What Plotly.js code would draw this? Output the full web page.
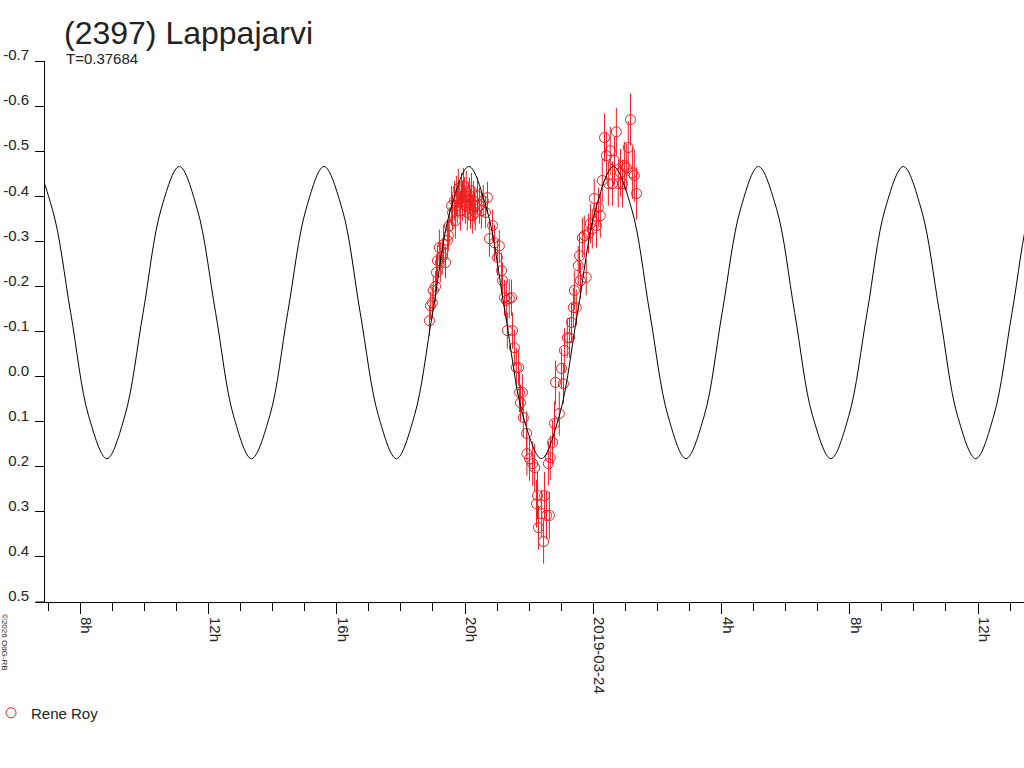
<!DOCTYPE html>
<html>
<head>
<meta charset="utf-8">
<script src="https://cdn.plot.ly/plotly-3.0.1.min.js"></script>
<style>html,body{margin:0;padding:0;background:#fff;}#chart{width:1024px;height:768px;}</style>
</head>
<body>
<div id="chart"></div>
<script>
// Observations: hours since 2019-03-23 00:00 UT, relative magnitude, error
var obsHours = [18.89,18.92,18.98,19.01,19.08,19.11,19.14,19.20,19.23,19.29,19.33,19.39,19.45,19.48,19.51,19.58,19.61,19.67,19.70,19.73,19.76,19.79,19.82,19.86,19.89,19.92,19.95,19.98,20.01,20.04,20.07,20.10,20.14,20.17,20.20,20.23,20.26,20.29,20.32,20.39,20.45,20.51,20.57,20.64,20.70,
 20.76,20.86,20.92,21.01,21.07,21.14,21.17,21.23,21.29,21.32,21.38,21.45,21.48,21.54,21.60,21.67,21.70,21.73,21.79,21.82,21.92,21.93,22.01,22.11,22.17,22.23,22.26,22.29,22.39,22.45,22.48,22.54,22.63,22.60,22.66,22.73,22.79,22.82,22.94,23.01,23.07,23.10,23.19,23.26,23.32,23.38,23.41,23.47,23.53,23.57,23.60,23.66,23.72,23.78,23.85,23.91,23.97,24.03,24.10,24.16,24.22,24.28,24.35,24.41,24.47,24.53,24.60,24.66,24.72,24.78,24.85,24.91,24.97,25.03,25.09,25.16,25.22,25.28,25.35];
var obsMags = [-0.124,-0.157,-0.164,-0.191,-0.200,-0.231,-0.257,-0.286,-0.253,-0.266,-0.293,-0.253,-0.302,-0.313,-0.335,-0.379,-0.364,-0.390,-0.346,-0.401,-0.379,-0.417,-0.395,-0.368,-0.412,-0.390,-0.423,-0.399,-0.379,-0.412,-0.364,-0.390,-0.401,-0.372,-0.412,-0.357,-0.390,-0.379,-0.364,-0.401,-0.379,-0.368,-0.390,-0.364,-0.397,
 -0.306,-0.335,-0.297,-0.264,-0.290,-0.235,-0.213,-0.175,-0.169,-0.102,-0.173,-0.175,-0.102,-0.064,-0.020,-0.020,0.035,0.058,0.035,0.091,0.126,0.171,0.182,0.193,0.202,0.282,0.264,0.335,0.304,0.366,0.264,0.308,0.308,0.193,0.180,0.146,0.104,0.013,0.082,-0.018,0.016,-0.058,-0.086,-0.086,-0.120,-0.153,-0.191,-0.153,-0.246,-0.268,-0.213,-0.308,-0.313,-0.220,-0.317,-0.339,-0.328,-0.395,-0.335,-0.375,-0.357,-0.435,-0.530,-0.490,-0.428,-0.501,-0.428,-0.479,-0.543,-0.428,-0.452,-0.428,-0.468,-0.463,-0.508,-0.570,-0.452,-0.446,-0.406];
var obsErrs = [0.033,0.031,0.035,0.033,0.035,0.040,0.035,0.040,0.044,0.040,0.044,0.035,0.040,0.035,0.040,0.044,0.040,0.044,0.040,0.044,0.040,0.044,0.040,0.044,0.040,0.044,0.040,0.044,0.040,0.044,0.040,0.044,0.040,0.044,0.040,0.040,0.044,0.040,0.040,0.040,0.040,0.040,0.035,0.035,0.035,
 0.040,0.035,0.040,0.040,0.035,0.040,0.040,0.040,0.044,0.040,0.044,0.040,0.040,0.040,0.044,0.040,0.044,0.040,0.040,0.044,0.049,0.049,0.049,0.049,0.053,0.053,0.053,0.049,0.053,0.049,0.053,0.053,0.053,0.049,0.049,0.049,0.049,0.049,0.049,0.044,0.044,0.049,0.044,0.044,0.044,0.044,0.044,0.040,0.044,0.040,0.040,0.044,0.044,0.040,0.044,0.044,0.044,0.044,0.049,0.044,0.049,0.049,0.053,0.053,0.049,0.053,0.049,0.053,0.053,0.053,0.053,0.053,0.053,0.053,0.058,0.058,0.058,0.058,0.058];

// Fitted curve (extremes and intermediate points)
var fitHours = [6.01,6.57,7.13,7.70,8.26,8.83,9.39,9.96,10.52,11.09,11.65,12.22,12.78,13.34,13.91,14.47,15.04,15.60,16.17,16.73,17.30,17.86,18.42,18.99,19.55,20.12,20.68,21.25,21.81,22.38,22.94,23.51,24.07,24.63,25.20,25.76,26.33,26.89,27.46,28.02,28.59,29.15,29.72,30.28,30.84,31.41,31.97,32.54,33.10,33.67,34.23,34.80,35.36,35.93,36.49,37.06,37.62,38.18];
var fitMags = [-0.371,-0.466,-0.371,-0.142,0.087,0.182,0.087,-0.142,-0.371,-0.466,-0.371,-0.142,0.087,0.182,0.087,-0.142,-0.371,-0.466,-0.371,-0.142,0.087,0.182,0.087,-0.142,-0.371,-0.466,-0.371,-0.142,0.087,0.182,0.087,-0.142,-0.371,-0.466,-0.371,-0.142,0.087,0.182,0.087,-0.142,-0.371,-0.466,-0.371,-0.142,0.087,0.182,0.087,-0.142,-0.371,-0.466,-0.371,-0.142,0.087,0.182,0.087,-0.142,-0.371,-0.466];

var tickVals = ['2019-03-23 08:00','2019-03-23 12:00','2019-03-23 16:00','2019-03-23 20:00','2019-03-24 00:00','2019-03-24 04:00','2019-03-24 08:00','2019-03-24 12:00'];
var tickText = ['8h','12h','16h','20h','2019-03-24','4h','8h','12h'];
var yTicks = [-0.7,-0.6,-0.5,-0.4,-0.3,-0.2,-0.1,0.0,0.1,0.2,0.3,0.4,0.5];
var yTickText = ['-0.7','-0.6','-0.5','-0.4','-0.3','-0.2','-0.1','\u00a00.0','\u00a00.1','\u00a00.2','\u00a00.3','\u00a00.4','\u00a00.5'];

var BASE = Date.UTC(2019,2,23);
function toDate(h){ return new Date(BASE + h*3600000).toISOString().slice(0,23).replace('T',' '); }

var FONT = 'Liberation Sans, Arial, sans-serif';
var RED = 'rgb(240,30,30)';
var traces = [
  {
    x: obsHours.map(toDate), y: obsMags, type:'scatter', mode:'markers', name:'Rene Roy',
    marker:{symbol:'circle-open', size:10, color:RED, line:{width:1, color:RED}},
    error_y:{type:'data', array:obsErrs, visible:true, color:RED, thickness:1, width:0},
    hoverinfo:'skip'
  },
  {
    x: fitHours.map(toDate), y: fitMags, type:'scatter', mode:'lines', showlegend:false,
    line:{color:'#000', width:1, shape:'spline', smoothing:1}, hoverinfo:'skip'
  }
];

var PW = 979, PH = 541;
var layout = {
  width:1024, height:768,
  margin:{l:45, r:0, t:61, b:166, autoexpand:false},
  paper_bgcolor:'#fff', plot_bgcolor:'#fff',
  font:{family:FONT, color:'#222'},
  title:{text:'(2397) Lappajarvi', font:{size:32, family:FONT, color:'#222'}, xref:'container', yref:'container', x:64/1024, xanchor:'left', y:1-33/768, yanchor:'middle', pad:{t:0,b:0,l:0,r:0}},
  xaxis:{
    type:'date', range:['2019-03-23 06:54','2019-03-24 13:26'], automargin:false,
    tickmode:'array', tickvals:tickVals, ticktext:tickText, tickangle:90,
    ticks:'outside', ticklen:11, tickcolor:'#000', tickwidth:1,
    showline:true, linecolor:'#000', linewidth:1, showgrid:false, zeroline:false,
    tickfont:{size:15, family:FONT, color:'#222'}, ticklabelshift:6,
    minor:{dtick:3600000, tick0:'2019-03-23 00:00', ticks:'outside', ticklen:8, tickcolor:'#000', tickwidth:1, showgrid:false}
  },
  yaxis:{
    range:[0.5,-0.7], automargin:false, tickmode:'array', tickvals:yTicks, ticktext:yTickText,
    ticks:'outside', ticklen:9, tickcolor:'#000', tickwidth:1, ticklabelstandoff:3,
    showline:true, linecolor:'#000', linewidth:1, showgrid:false, zeroline:false,
    tickfont:{size:15, family:FONT, color:'#222'}, ticklabelshift:6
  },
  showlegend:true,
  legend:{x:-54/PW, xanchor:'left', y:-111/PH, yanchor:'middle', itemwidth:30, font:{size:15, family:FONT, color:'#222'}, bgcolor:'rgba(0,0,0,0)'},
  annotations:[
    {text:'T=0.37684', xref:'paper', yref:'paper', x:(64-45)/PW, xanchor:'left', y:1, yanchor:'middle', yshift:3, showarrow:false, font:{size:15, family:FONT, color:'#222'}},
    {text:'©2026 OdG-RB', xref:'paper', yref:'paper', x:-40/PW, xanchor:'center', y:-40/PH, yanchor:'middle', textangle:90, showarrow:false, font:{size:8, family:FONT, color:'#222'}}
  ],
  shapes:[
    {type:'line', xref:'paper', yref:'paper', x0:-9/PW, x1:0, y0:0, y1:0, line:{color:'#000', width:1}}
  ]
};

Plotly.newPlot('chart', traces, layout, {displayModeBar:false, staticPlot:true});
</script>
</body>
</html>
